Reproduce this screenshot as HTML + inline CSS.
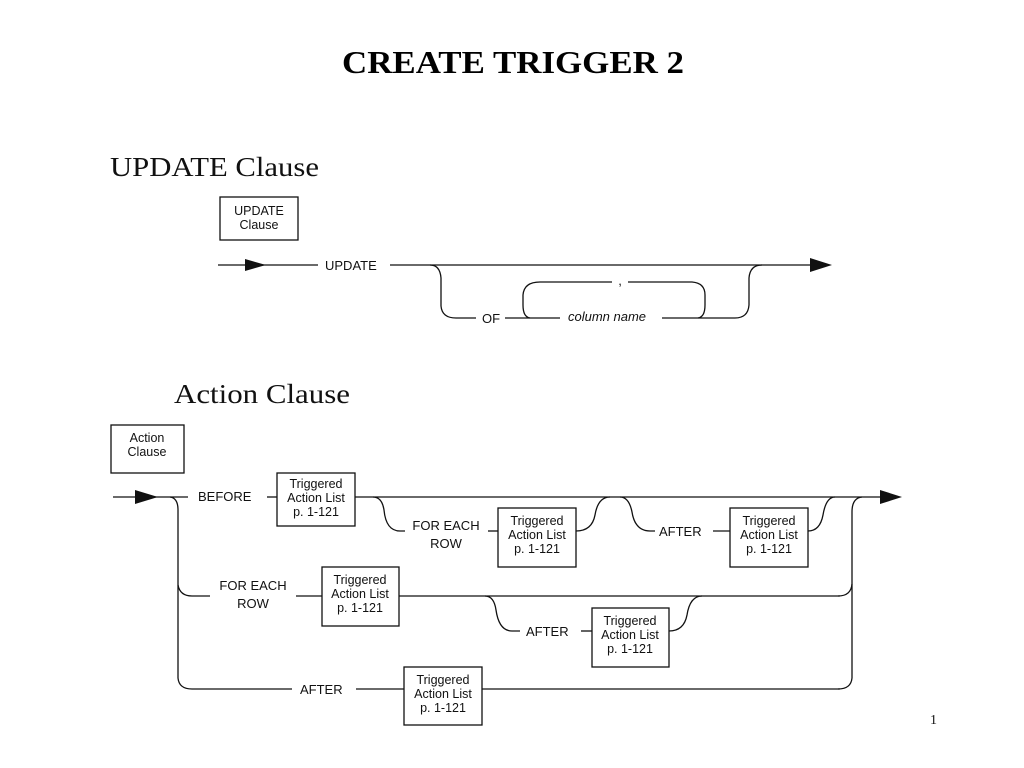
<!DOCTYPE html>
<html><head><meta charset="utf-8"><style>
html,body{margin:0;padding:0;background:#fff;}
svg{display:block;}
.s{font-family:"Liberation Sans",sans-serif;font-size:13px;fill:#111;}
.t{font-family:"Liberation Sans",sans-serif;font-size:12.5px;fill:#111;}
.ln{stroke:#111;stroke-width:1.3;fill:none;}
</style></head><body>
<svg width="1024" height="768" viewBox="0 0 1024 768" xmlns="http://www.w3.org/2000/svg">
<text x="342" y="73" font-family="Liberation Serif,serif" font-weight="bold" font-size="32" textLength="342" lengthAdjust="spacingAndGlyphs" fill="#000">CREATE  TRIGGER 2</text>
<text x="110" y="176" font-family="Liberation Serif,serif" font-size="27" textLength="209" lengthAdjust="spacingAndGlyphs" fill="#111">UPDATE Clause</text>
<text x="174" y="403" font-family="Liberation Serif,serif" font-size="27" textLength="176" lengthAdjust="spacingAndGlyphs" fill="#111">Action Clause</text>

<g class="ln">
<!-- UPDATE clause -->
<rect x="220" y="197" width="78" height="43"/>
<line x1="218" y1="265" x2="318" y2="265"/>
<line x1="390" y1="265" x2="812" y2="265"/>
<path d="M430,265 Q440,265 441,278 L441,306 Q442,318 456,318 L476,318"/>
<path d="M505,318 L560,318 M662,318 L710,318"/>
<path d="M530,318 Q523,317 523,305 L523,295 Q524,282 540,282 L612,282 M628,282 L692,282 Q705,283 705,295 L705,305 Q705,317 698,318"/>
<path d="M710,318 L735,318 Q748,318 749,305 L749,278 Q750,265 762,265"/>

<!-- Action clause -->
<rect x="111" y="425" width="73" height="48"/>
<line x1="113" y1="497" x2="188" y2="497"/>
<line x1="267" y1="497" x2="277" y2="497"/>
<line x1="355" y1="497" x2="882" y2="497"/>
<path d="M170,497 Q178,498 178,510 L178,678 Q179,689 192,689 L292,689"/>
<path d="M178,585 Q180,596 192,596 L210,596"/>
<rect x="277" y="473" width="78" height="53"/>
<path d="M373,497 Q382,497 384,510 Q386,531 400,531 L405,531"/>
<line x1="488" y1="531" x2="498" y2="531"/>
<rect x="498" y="508" width="78" height="59"/>
<path d="M576,531 Q592,531 595,515 Q598,497 610,497"/>
<path d="M620,497 Q629,497 632,512 Q635,531 650,531 L655,531"/>
<line x1="713" y1="531" x2="730" y2="531"/>
<rect x="730" y="508" width="78" height="59"/>
<path d="M808,531 Q820,531 823,515 Q826,497 835,497"/>
<path d="M862,497 Q852,498 852,512 L852,678 Q851,689 838,689"/>
<path d="M852,584 Q851,596 838,596"/>
<line x1="296" y1="596" x2="322" y2="596"/>
<rect x="322" y="567" width="77" height="59"/>
<line x1="399" y1="596" x2="840" y2="596"/>
<path d="M485,596 Q494,596 496,610 Q499,631 512,631 L520,631"/>
<line x1="581" y1="631" x2="592" y2="631"/>
<rect x="592" y="608" width="77" height="59"/>
<path d="M669,631 Q684,631 687,615 Q690,596 702,596"/>
<line x1="356" y1="689" x2="404" y2="689"/>
<rect x="404" y="667" width="78" height="58"/>
<line x1="482" y1="689" x2="840" y2="689"/>
</g>
<polygon points="245,259 266,265 245,271" fill="#111"/>
<polygon points="810,258 832,265 810,272" fill="#111"/>
<polygon points="135,490 158,497 135,504" fill="#111"/>
<polygon points="880,490 902,497 880,504" fill="#111"/>

<text class="t" x="259" y="215" text-anchor="middle">UPDATE</text>
<text class="t" x="259" y="229" text-anchor="middle">Clause</text>
<text class="s" x="325" y="270">UPDATE</text>
<text class="s" x="482" y="323">OF</text>
<text class="s" x="568" y="321" font-style="italic">column name</text>
<text class="s" x="620" y="285" text-anchor="middle">,</text>

<text class="t" x="147" y="442" text-anchor="middle">Action</text>
<text class="t" x="147" y="456" text-anchor="middle">Clause</text>
<text class="s" x="198" y="501">BEFORE</text>
<text class="t" x="316" y="488" text-anchor="middle">Triggered</text>
<text class="t" x="316" y="502" text-anchor="middle">Action List</text>
<text class="t" x="316" y="516" text-anchor="middle">p. 1-121</text>
<text class="s" x="446" y="530" text-anchor="middle">FOR EACH</text>
<text class="s" x="446" y="548" text-anchor="middle">ROW</text>
<text class="t" x="537" y="525" text-anchor="middle">Triggered</text>
<text class="t" x="537" y="539" text-anchor="middle">Action List</text>
<text class="t" x="537" y="553" text-anchor="middle">p. 1-121</text>
<text class="s" x="659" y="536">AFTER</text>
<text class="t" x="769" y="525" text-anchor="middle">Triggered</text>
<text class="t" x="769" y="539" text-anchor="middle">Action List</text>
<text class="t" x="769" y="553" text-anchor="middle">p. 1-121</text>
<text class="s" x="253" y="590" text-anchor="middle">FOR EACH</text>
<text class="s" x="253" y="608" text-anchor="middle">ROW</text>
<text class="t" x="360" y="584" text-anchor="middle">Triggered</text>
<text class="t" x="360" y="598" text-anchor="middle">Action List</text>
<text class="t" x="360" y="612" text-anchor="middle">p. 1-121</text>
<text class="s" x="526" y="636">AFTER</text>
<text class="t" x="630" y="625" text-anchor="middle">Triggered</text>
<text class="t" x="630" y="639" text-anchor="middle">Action List</text>
<text class="t" x="630" y="653" text-anchor="middle">p. 1-121</text>
<text class="s" x="300" y="694">AFTER</text>
<text class="t" x="443" y="684" text-anchor="middle">Triggered</text>
<text class="t" x="443" y="698" text-anchor="middle">Action List</text>
<text class="t" x="443" y="712" text-anchor="middle">p. 1-121</text>
<text x="930" y="724" font-family="Liberation Serif,serif" font-size="14" fill="#111">1</text>
</svg>
</body></html>
